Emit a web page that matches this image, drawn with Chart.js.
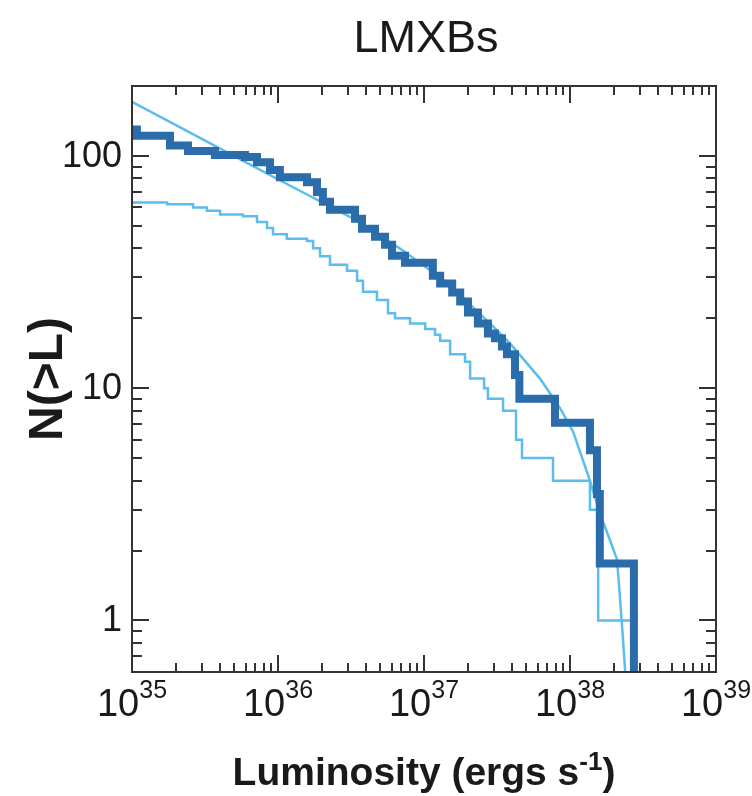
<!DOCTYPE html>
<html>
<head>
<meta charset="utf-8">
<title>LMXBs</title>
<script src="https://cdn.jsdelivr.net/npm/chart.js@4.4.0/dist/chart.umd.min.js"></script>
<style>
  html, body { margin: 0; padding: 0; background: #fff; }
  #wrap { position: relative; width: 752px; height: 796px; }
</style>
</head>
<body>
<div id="wrap"><canvas id="lumChart"></canvas></div>
<script>
// --- data (luminosity in erg/s, N = number of sources brighter than L) ---
// the last value of each step series sits below the axis so the final drop runs off the plot
const observedL = [1.0e35, 1.08e35, 1.82e35, 2.42e35, 3.70e35, 5.94e35, 7.18e35, 8.81e35, 1.03e36,
    1.58e36, 1.85e36, 2.03e36, 2.27e36, 3.37e36, 3.76e36, 4.62e36, 5.41e36, 6.04e36, 7.41e36,
    1.15e37, 1.29e37, 1.56e37, 1.77e37, 2.00e37, 2.34e37, 2.74e37, 3.06e37, 3.42e37, 3.70e37,
    4.20e37, 4.50e37, 7.89e37, 1.37e38, 1.53e38, 1.60e38, 2.74e38];
const observedN = [130, 122, 111, 105, 101, 99, 94, 87, 81,
    77, 70, 63.5, 58.7, 53.7, 48.6, 44.9, 41.5, 37.2, 34.7,
    30.5, 28.2, 25.8, 23.6, 21.2, 19.0, 17.2, 16.4, 15.1, 14.0,
    11.4, 9.0, 7.1, 5.4, 3.5, 1.76, 0.3];

const rawL = [1.0e35, 1.74e35, 2.62e35, 3.26e35, 4.01e35, 5.76e35, 7.18e35, 8.41e35, 9.24e35,
    1.15e36, 1.58e36, 1.74e36, 1.94e36, 2.27e36, 2.97e36, 3.48e36, 3.82e36, 4.76e36, 5.67e36,
    6.33e36, 8.02e36, 1.02e37, 1.19e37, 1.29e37, 1.51e37, 1.91e37, 2.07e37, 2.58e37, 2.74e37,
    3.48e37, 4.27e37, 4.69e37, 7.65e37, 1.37e38, 1.56e38, 2.66e38];
const rawN = [63, 62, 60, 58, 56, 55, 52, 49, 46,
    44, 43, 40, 37, 34, 32, 29, 26, 24, 21,
    20, 19, 18, 17, 16, 14, 13, 11, 10, 9,
    8, 6, 5, 4, 3, 1, 0.3];

const modelL = [1.0e35, 2.92e35, 5.94e35, 1.41e36, 3.11e36, 6.85e36, 1.51e37, 2.31e37, 2.83e37,
    3.88e37, 6.23e37, 8.55e37, 1.05e38, 1.37e38, 1.60e38, 1.82e38, 2.10e38, 2.27e38, 2.38e38, 2.45e38];
const modelN = [171, 119.5, 94.3, 70.8, 54.7, 39.9, 27.9, 21.4, 19.0,
    15.6, 11.0, 8.2, 6.5, 4.0, 2.9, 2.34, 1.83, 0.96, 0.62, 0.4];

const xTickExponents = [35, 36, 37, 38, 39];
const yTickValues = [1, 10, 100];
// --- end data ---

const DARK_BLUE = '#2b6cab';
const LIGHT_BLUE = '#5bbdee';
const AXIS_COLOR = '#333333';
const FONT = '"Liberation Sans", Arial, Helvetica, sans-serif';

function toPoints(xs, ys) {
    return xs.map((x, i) => ({ x: x, y: ys[i] }));
}

// frame, inward ticks on all four sides, tick labels and titles
const axesPlugin = {
    id: 'axesPlugin',
    afterDatasetsDraw(chart) {
        const { ctx, chartArea: a, scales } = chart;
        const xs = scales.x, ys = scales.y;
        ctx.save();
        ctx.strokeStyle = AXIS_COLOR;
        ctx.lineWidth = 2;
        ctx.strokeRect(a.left, a.top, a.right - a.left, a.bottom - a.top);

        ctx.beginPath();
        const xMinExp = Math.floor(Math.log10(xs.min));
        const xMaxExp = Math.ceil(Math.log10(xs.max));
        for (let e = xMinExp; e <= xMaxExp; e++) {
            for (let m = 1; m <= 9; m++) {
                const v = m * Math.pow(10, e);
                if (v < xs.min * 0.999 || v > xs.max * 1.001) continue;
                const px = Math.round(xs.getPixelForValue(v));
                const len = m === 1 ? 17 : 9;
                ctx.moveTo(px, a.bottom); ctx.lineTo(px, a.bottom - len);
                ctx.moveTo(px, a.top); ctx.lineTo(px, a.top + len);
            }
        }
        const yMinExp = Math.floor(Math.log10(ys.min));
        const yMaxExp = Math.ceil(Math.log10(ys.max));
        for (let e = yMinExp; e <= yMaxExp; e++) {
            for (let m = 1; m <= 9; m++) {
                const v = m * Math.pow(10, e);
                if (v < ys.min || v > ys.max * 1.001) continue;
                const py = Math.round(ys.getPixelForValue(v));
                if (py - a.top < 3) continue;
                const len = m === 1 ? 17 : 10;
                ctx.moveTo(a.left, py); ctx.lineTo(a.left + len, py);
                ctx.moveTo(a.right, py); ctx.lineTo(a.right - len, py);
            }
        }
        ctx.stroke();

        ctx.fillStyle = '#1a1a1a';

        // y tick labels
        ctx.font = '36px ' + FONT;
        ctx.textAlign = 'right';
        ctx.textBaseline = 'middle';
        yTickValues.forEach(v => {
            ctx.fillText(String(v), a.left - 10, ys.getPixelForValue(v) + 1);
        });

        // x tick labels: 10 with a raised exponent
        ctx.textAlign = 'left';
        ctx.textBaseline = 'alphabetic';
        xTickExponents.forEach(e => {
            const px = xs.getPixelForValue(Math.pow(10, e));
            ctx.font = '38px ' + FONT;
            const baseW = ctx.measureText('10').width;
            ctx.font = '25px ' + FONT;
            const expW = ctx.measureText(String(e)).width;
            const start = px - (baseW + expW) / 2;
            ctx.font = '38px ' + FONT;
            ctx.fillText('10', start, a.bottom + 44);
            ctx.font = '25px ' + FONT;
            ctx.fillText(String(e), start + baseW, a.bottom + 26);
        });

        // x axis title with superscript
        const main = 'Luminosity (ergs s';
        const sup = '-1';
        const close = ')';
        ctx.font = 'bold 39px ' + FONT;
        const mainW = ctx.measureText(main).width;
        const closeW = ctx.measureText(close).width;
        ctx.font = 'bold 26px ' + FONT;
        const supW = ctx.measureText(sup).width;
        const cx = (a.left + a.right) / 2;
        let tx = cx - (mainW + supW + closeW) / 2;
        const baseY = a.bottom + 113;
        ctx.font = 'bold 39px ' + FONT;
        ctx.fillText(main, tx, baseY);
        tx += mainW;
        ctx.font = 'bold 26px ' + FONT;
        ctx.fillText(sup, tx, baseY - 15);
        tx += supW;
        ctx.font = 'bold 39px ' + FONT;
        ctx.fillText(close, tx, baseY);

        // y axis title, rotated
        ctx.save();
        ctx.translate(62, (a.top + a.bottom) / 2);
        ctx.rotate(-Math.PI / 2);
        ctx.textAlign = 'center';
        ctx.font = 'bold 48px ' + FONT;
        ctx.fillText('N(>L)', 0, 0);
        ctx.restore();

        // chart title
        ctx.textAlign = 'center';
        ctx.font = '45px ' + FONT;
        ctx.fillText('LMXBs', cx + 2, 52);

        ctx.restore();
    }
};

document.addEventListener('DOMContentLoaded', function () {
    const ctx = document.getElementById('lumChart').getContext('2d');
    new Chart(ctx, {
        type: 'line',
        data: {
            datasets: [
                {
                    label: 'observed (corrected)',
                    data: toPoints(observedL, observedN),
                    borderColor: DARK_BLUE,
                    borderWidth: 8,
                    stepped: 'before',
                    clip: 0
                },
                {
                    label: 'observed (raw)',
                    data: toPoints(rawL, rawN),
                    borderColor: LIGHT_BLUE,
                    borderWidth: 2.5,
                    stepped: 'before',
                    clip: 0
                },
                {
                    label: 'model',
                    data: toPoints(modelL, modelN),
                    borderColor: LIGHT_BLUE,
                    borderWidth: 2.5,
                    tension: 0,
                    clip: 0
                }
            ]
        },
        options: {
            responsive: true,
            maintainAspectRatio: false,
            animation: false,
            layout: { padding: { left: 132, top: 86, right: 36, bottom: 124 } },
            elements: { point: { radius: 0 } },
            plugins: {
                legend: { display: false },
                tooltip: { enabled: false }
            },
            scales: {
                x: { type: 'logarithmic', min: 1e35, max: 1e39, display: false },
                y: { type: 'logarithmic', min: 0.615, max: 200, display: false }
            }
        },
        plugins: [axesPlugin]
    });
});
</script>
</body>
</html>
